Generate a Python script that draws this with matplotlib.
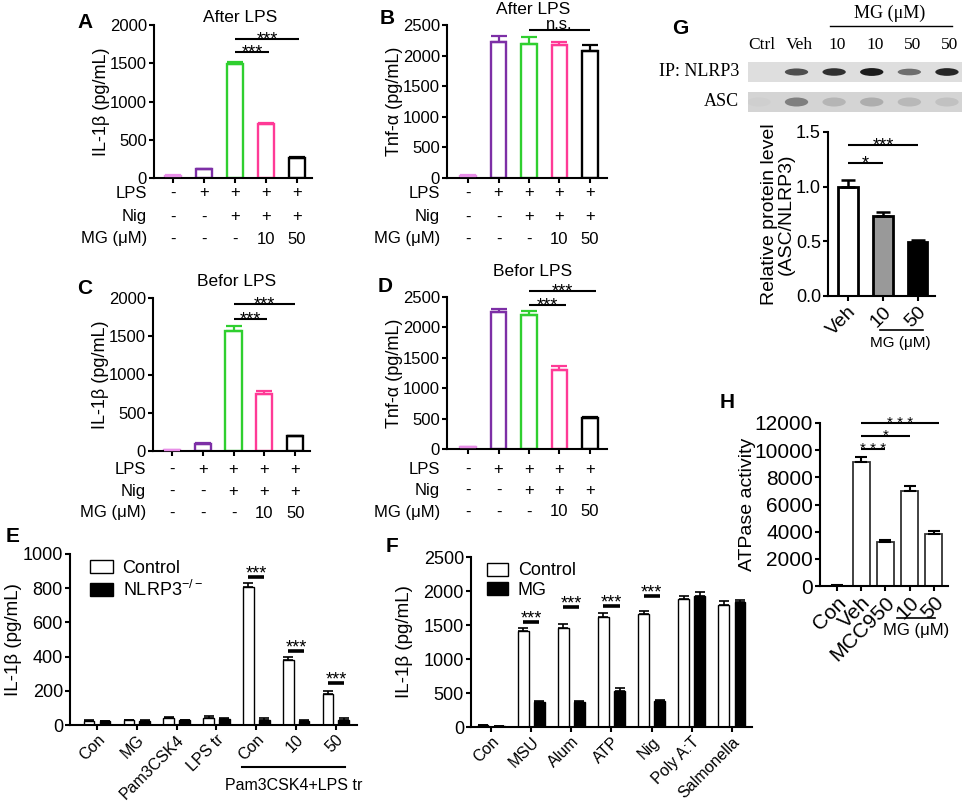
import matplotlib
matplotlib.use("Agg")
import matplotlib.pyplot as plt
from matplotlib.patches import Ellipse, Rectangle, Patch
from matplotlib.ticker import FormatStrFormatter
import numpy as np

plt.rcParams["font.family"] = ["Liberation Sans", "DejaVu Sans"]
plt.rcParams["mathtext.fontset"] = "custom"
plt.rcParams["mathtext.rm"] = "Liberation Sans"
plt.rcParams["mathtext.it"] = "Liberation Sans:italic"

W, H = 969, 801
SERIF = ["Liberation Serif", "DejaVu Serif"]

# ---- panels A-D: treatment rows and colours ----
lps_row = ["-", "+", "+", "+", "+"]
nig_row = ["-", "-", "+", "+", "+"]
mg_row = ["-", "-", "-", "10", "50"]
row_names = ["LPS", "Nig", "MG (μM)"]
abcd_colors = ["#e88fe8", "#7d2fa6", "#2fcf2f", "#ff3a96", "#000000"]

a_vals = [30, 115, 1490, 710, 260]
a_err = [5, 8, 30, 10, 15]
b_vals = [40, 2230, 2190, 2170, 2080]
b_err = [5, 90, 110, 60, 90]
c_vals = [10, 95, 1570, 750, 190]
c_err = [3, 10, 60, 35, 10]
d_vals = [25, 2250, 2200, 1300, 510]
d_err = [5, 60, 70, 70, 10]

# ---- panel E ----
e_labels = ["Con", "MG", "Pam3CSK4", "LPS tr", "Con", "10", "50"]
e_control = [25, 28, 42, 42, 808, 380, 180]
e_control_err = [3, 4, 5, 8, 20, 15, 20]
e_ko = [22, 25, 28, 35, 32, 25, 32]
e_ko_err = [3, 3, 3, 4, 8, 4, 8]
e_sig_groups = [4, 5, 6]
e_sig_y = [865, 433, 245]

# ---- panel F ----
f_labels = ["Con", "MSU", "Alum", "ATP", "Nig", "Poly A:T", "Salmonella"]
f_control = [25, 1410, 1450, 1625, 1655, 1880, 1800]
f_control_err = [5, 40, 60, 45, 50, 50, 60]
f_mg = [15, 370, 370, 530, 380, 1930, 1840]
f_mg_err = [3, 10, 10, 45, 15, 50, 30]
f_sig_groups = [1, 2, 3, 4]
f_sig_y = [1540, 1765, 1775, 1930]

# ---- panel G ----
blot_lanes = ["Ctrl", "Veh", "10", "10", "50", "50"]
nlrp3_band = [0.0, 0.7, 0.85, 0.95, 0.55, 0.9]
asc_band = [0.03, 0.55, 0.2, 0.25, 0.18, 0.12]
g_labels = ["Veh", "10", "50"]
g_vals = [1.0, 0.73, 0.49]
g_err = [0.06, 0.04, 0.02]
g_colors = ["white", "#999999", "black"]

# ---- panel H ----
h_labels = ["Con", "Veh", "MCC950", "10", "50"]
h_vals = [30, 9150, 3250, 7000, 3850]
h_err = [10, 350, 100, 350, 200]


def px_axes(fig, left, top, right, bottom):
    return fig.add_axes([left / W, 1 - bottom / H, (right - left) / W, (bottom - top) / H])


def prism_style(ax, fs, lw=1.5):
    for s in ["top", "right"]:
        ax.spines[s].set_visible(False)
    for s in ["left", "bottom"]:
        ax.spines[s].set_linewidth(lw)
    ax.tick_params(direction="out", length=3.6, width=lw, labelsize=fs, pad=1.5)


def sig_line(ax, x1, x2, y, text, fs=13, lw=1.5, dy=-4):
    ax.plot([x1, x2], [y, y], color="k", lw=lw, clip_on=False, solid_capstyle="butt")
    ax.annotate(text, xy=((x1 + x2) / 2, y), xytext=(0, dy), textcoords="offset points",
                ha="center", va="baseline", fontsize=fs, annotation_clip=False)


def treatment_rows(ax, offsets, fs=12):
    for name, row, dy in zip(row_names, [lps_row, nig_row, mg_row], offsets):
        ax.annotate(name, xy=(0, 0), xycoords="axes fraction", xytext=(-5, -dy * 0.72),
                    textcoords="offset points", ha="right", va="center", fontsize=fs)
        for i, s in enumerate(row):
            ax.annotate(s, xy=(i, 0), xycoords=("data", "axes fraction"), xytext=(0, -dy * 0.72),
                        textcoords="offset points", ha="center", va="center", fontsize=fs,
                        annotation_clip=False)


def abcd_panel(ax, vals, errs, ymax, ystep, xlim, ylabel, label_x):
    x = np.arange(len(vals))
    ax.bar(x, vals, width=0.52, color="white", edgecolor=abcd_colors, linewidth=1.7, zorder=2)
    for xi, v, e, c in zip(x, vals, errs, abcd_colors):
        ax.errorbar(xi, v, yerr=[[0], [e]], fmt="none", ecolor=c, elinewidth=1.6,
                    capsize=5.5, capthick=1.6, zorder=3)
    ax.set_xlim(*xlim)
    ax.set_ylim(0, ymax)
    ax.set_yticks(np.arange(0, ymax + 1, ystep))
    ax.set_xticks(x)
    ax.set_xticklabels([])
    prism_style(ax, 12)
    ax.set_ylabel(ylabel, fontsize=13)
    ax.yaxis.set_label_coords(label_x, 0.5)


def pair_panel(ax, labels, ctrl, ctrl_err, other, other_err, ymax, ystep, xlim):
    x = np.arange(len(labels))
    ax.bar(x - 0.2, ctrl, 0.27, color="white", edgecolor="k", linewidth=1.0, zorder=2)
    ax.bar(x + 0.2, other, 0.27, color="black", edgecolor="k", linewidth=1.0, zorder=2)
    ax.errorbar(x - 0.2, ctrl, yerr=[np.zeros(len(x)), ctrl_err], fmt="none", ecolor="k",
                elinewidth=1.2, capsize=3.5, capthick=1.2, zorder=3)
    ax.errorbar(x + 0.2, other, yerr=[np.zeros(len(x)), other_err], fmt="none", ecolor="k",
                elinewidth=1.2, capsize=3.5, capthick=1.2, zorder=3)
    ax.set_xlim(*xlim)
    ax.set_ylim(0, ymax)
    ax.set_yticks(np.arange(0, ymax + 1, ystep))
    ax.set_xticks(x)
    ax.set_xticklabels(labels, rotation=45, ha="right", rotation_mode="anchor")
    prism_style(ax, 13)
    ax.tick_params(axis="x", labelsize=11.5, pad=1.5)
    ax.set_ylabel("IL-1β (pg/mL)", fontsize=13.5)


fig = plt.figure(figsize=(W / 100, H / 100), dpi=100)

# ---------------- A ----------------
ax_a = px_axes(fig, 154, 25, 312, 178)
abcd_panel(ax_a, a_vals, a_err, 2000, 500, (-0.61, 4.48), "IL-1β (pg/mL)", -0.28)
sig_line(ax_a, 2, 3.1, 1650, "***")
sig_line(ax_a, 2, 4.06, 1817, "***")
treatment_rows(ax_a, [15, 39, 61])

# ---------------- B ----------------
ax_b = px_axes(fig, 447, 25, 607, 178)
abcd_panel(ax_b, b_vals, b_err, 2500, 500, (-0.69, 4.56), "Tnf-α (pg/mL)", -0.275)
sig_line(ax_b, 2, 4.0, 2418, "n.s.", fs=12, dy=1)
treatment_rows(ax_b, [15, 39, 61])

# ---------------- C ----------------
ax_c = px_axes(fig, 153, 298, 310, 451)
abcd_panel(ax_c, c_vals, c_err, 2000, 500, (-0.61, 4.48), "IL-1β (pg/mL)", -0.28)
sig_line(ax_c, 2, 3.1, 1725, "***")
sig_line(ax_c, 2, 4.0, 1922, "***")
treatment_rows(ax_c, [18, 40, 62])

# ---------------- D ----------------
ax_d = px_axes(fig, 447, 297, 607, 449)
abcd_panel(ax_d, d_vals, d_err, 2500, 500, (-0.69, 4.56), "Tnf-α (pg/mL)", -0.275)
sig_line(ax_d, 2, 3.2, 2368, "***")
sig_line(ax_d, 2, 4.2, 2600, "***")
treatment_rows(ax_d, [20, 41, 63])

# titles
fig.text(240 / W, 1 - 17 / H, "After LPS", ha="center", va="center", fontsize=12.5)
fig.text(533 / W, 1 - 10 / H, "After LPS", ha="center", va="center", fontsize=12.5)
fig.text(237 / W, 1 - 281 / H, "Befor LPS", ha="center", va="center", fontsize=12.5)
fig.text(533 / W, 1 - 271 / H, "Befor LPS", ha="center", va="center", fontsize=12.5)

# ---------------- E ----------------
ax_e = px_axes(fig, 70, 554, 357, 725)
pair_panel(ax_e, e_labels, e_control, e_control_err, e_ko, e_ko_err, 1000, 200, (-0.68, 6.53))
ax_e.yaxis.set_label_coords(-0.167, 0.5)
for g, y in zip(e_sig_groups, e_sig_y):
    sig_line(ax_e, g - 0.2, g + 0.2, y, "***", lw=2.6, dy=-1)
ax_e.legend([Patch(facecolor="white", edgecolor="k"), Patch(facecolor="black", edgecolor="k")],
            ["Control", r"NLRP3$^{\mathrm{-/-}}$"], loc="center left", bbox_to_anchor=(0.07, 0.85),
            frameon=False, fontsize=13, handlelength=1.25, handleheight=0.75, handletextpad=0.55,
            labelspacing=0.15, borderpad=0, borderaxespad=0)
ax_e.plot([3.64, 6.23], [-42 / 171, -42 / 171], color="k", lw=1.5, clip_on=False,
          transform=ax_e.get_xaxis_transform())
ax_e.text(4.95, -60 / 171, "Pam3CSK4+LPS tr", ha="center", va="center", fontsize=11.5,
          transform=ax_e.get_xaxis_transform())

# ---------------- F ----------------
ax_f = px_axes(fig, 471, 557, 752, 727)
pair_panel(ax_f, f_labels, f_control, f_control_err, f_mg, f_mg_err, 2500, 500, (-0.5, 6.5))
ax_f.yaxis.set_label_coords(-0.206, 0.5)
for g, y in zip(f_sig_groups, f_sig_y):
    sig_line(ax_f, g - 0.2, g + 0.2, y, "***", lw=2.6, dy=-1)
ax_f.legend([Patch(facecolor="white", edgecolor="k"), Patch(facecolor="black", edgecolor="k")],
            ["Control", "MG"], loc="center left", bbox_to_anchor=(0.057, 0.86),
            frameon=False, fontsize=13, handlelength=1.15, handleheight=0.75, handletextpad=0.55,
            labelspacing=0.15, borderpad=0, borderaxespad=0)

# ---------------- G blot ----------------
ax_blot = px_axes(fig, 748, 62, 962, 112)
ax_blot.set_xlim(-0.37, 5.32)
ax_blot.set_ylim(50, 0)
ax_blot.axis("off")
ax_blot.add_patch(Rectangle((-0.37, 0), 5.69, 20, facecolor="#dedede", edgecolor="none"))
ax_blot.add_patch(Rectangle((-0.37, 30), 5.69, 20, facecolor="#d4d4d4", edgecolor="none"))
for i, (n, a) in enumerate(zip(nlrp3_band, asc_band)):
    gn = 0.87 - 0.8 * n
    ax_blot.add_patch(Ellipse((i - 0.08, 10), 0.62, 5 + 3 * n, facecolor=(gn, gn, gn), edgecolor="none"))
    ga = 0.83 - 0.6 * a
    ax_blot.add_patch(Ellipse((i - 0.08, 40), 0.62, 9, facecolor=(ga, ga, ga), edgecolor="none"))
    ax_blot.text(i, -17, blot_lanes[i], ha="center", va="center", fontsize=12.5, family=SERIF)
ax_blot.text(-0.6, 10, "IP: NLRP3", ha="right", va="center", fontsize=13, family=SERIF)
ax_blot.text(-0.6, 40, "ASC", ha="right", va="center", fontsize=13, family=SERIF)
ax_blot.plot([1.8, 5.05], [-36, -36], color="k", lw=1.0, clip_on=False)
ax_blot.text(3.4, -49, "MG (μM)", ha="center", va="center", fontsize=13, family=SERIF)

# ---------------- G bars ----------------
ax_g = px_axes(fig, 828, 132, 935, 296)
xg = np.arange(len(g_vals))
ax_g.bar(xg, g_vals, 0.55, color=g_colors, edgecolor="k", linewidth=2.0, zorder=2)
ax_g.errorbar(xg, g_vals, yerr=[np.zeros(3), g_err], fmt="none", ecolor="k", elinewidth=1.8,
              capsize=5, capthick=1.8, zorder=3)
ax_g.set_xlim(-0.57, 2.49)
ax_g.set_ylim(0, 1.5)
ax_g.set_yticks([0, 0.5, 1.0, 1.5])
ax_g.yaxis.set_major_formatter(FormatStrFormatter("%.1f"))
ax_g.set_xticks(xg)
ax_g.set_xticklabels(g_labels, rotation=45, ha="right", rotation_mode="anchor")
prism_style(ax_g, 13)
ax_g.tick_params(axis="x", labelsize=14)
ax_g.set_ylabel("Relative protein level\n(ASC/NLRP3)", fontsize=14, linespacing=1.0)
ax_g.yaxis.set_label_coords(-0.31, 0.5)
sig_line(ax_g, 0, 1, 1.22, "*")
sig_line(ax_g, 0, 2, 1.38, "***")
ax_g.plot([0.91, 2.14], [-34 / 164, -34 / 164], color="k", lw=1.2, clip_on=False,
          transform=ax_g.get_xaxis_transform())
ax_g.text(1.5, -47 / 164, "MG (μM)", ha="center", va="center", fontsize=11,
          transform=ax_g.get_xaxis_transform())

# ---------------- H ----------------
ax_h = px_axes(fig, 820, 423, 948, 586)
xh = np.arange(len(h_vals))
ax_h.bar(xh, h_vals, 0.7, color="white", edgecolor="#333333", linewidth=1.3, zorder=2)
ax_h.errorbar(xh, h_vals, yerr=[np.zeros(5), h_err], fmt="none", ecolor="k", elinewidth=1.5,
              capsize=4, capthick=1.5, zorder=3)
ax_h.set_xlim(-0.7, 4.58)
ax_h.set_ylim(0, 12000)
ax_h.set_yticks(np.arange(0, 12001, 2000))
ax_h.set_xticks(xh)
ax_h.set_xticklabels(h_labels, rotation=45, ha="right", rotation_mode="anchor")
prism_style(ax_h, 15)
ax_h.tick_params(axis="x", labelsize=15)
ax_h.set_ylabel("ATPase activity", fontsize=14)
ax_h.yaxis.set_label_coords(-0.5, 0.5)
sig_line(ax_h, 1, 2, 10100, "* * *", fs=11, dy=-3)
sig_line(ax_h, 1, 3, 11050, "*", fs=11, dy=-3)
sig_line(ax_h, 1, 4.2, 12000, "* * *", fs=11, dy=-3)
ax_h.plot([2.47, 4.04], [-32 / 163, -32 / 163], color="k", lw=1.2, clip_on=False,
          transform=ax_h.get_xaxis_transform())
ax_h.text(3.25, -44 / 163, "MG (μM)", ha="center", va="center", fontsize=12,
          transform=ax_h.get_xaxis_transform())

# panel letters
for letter, lx, ly in [("A", 85, 22), ("B", 387, 18), ("C", 85, 288), ("D", 385, 287),
                       ("E", 13, 537), ("F", 392, 547), ("G", 680, 28), ("H", 727, 403)]:
    fig.text(lx / W, 1 - ly / H, letter, ha="center", va="center", fontsize=15, fontweight="bold")

fig.savefig("out.png", dpi=100)
